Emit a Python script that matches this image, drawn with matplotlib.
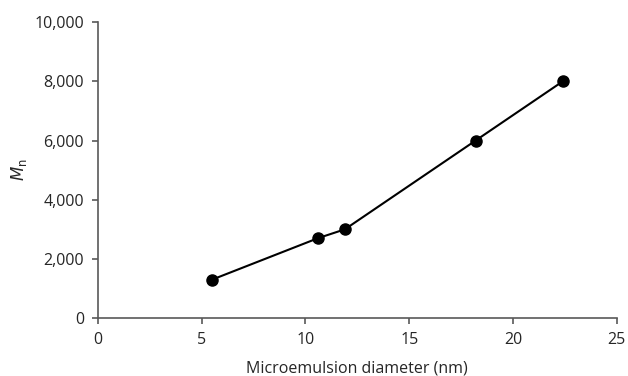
import matplotlib
matplotlib.use('Agg')
import matplotlib.pyplot as plt
from matplotlib.ticker import FuncFormatter

# Data
diameter = [5.5, 10.6, 11.9, 18.2, 22.4]
mn = [1300, 2700, 3000, 6000, 8000]

plt.rcParams['font.family'] = ['Open Sans', 'DejaVu Sans']

fig = plt.figure(figsize=(6.28, 3.76), dpi=100)
ax = fig.add_axes([0.156, 0.154, 0.826, 0.787])

ax.plot(diameter, mn, color='black', linewidth=1.5, marker='o',
        markersize=8, markerfacecolor='black', markeredgecolor='black')

ax.set_xlim(0, 25)
ax.set_ylim(0, 10000)
ax.set_xticks([0, 5, 10, 15, 20, 25])
ax.set_yticks([0, 2000, 4000, 6000, 8000, 10000])
ax.yaxis.set_major_formatter(FuncFormatter(lambda v, p: f'{int(v):,}'))

for s in ['top', 'right']:
    ax.spines[s].set_visible(False)
for s in ['left', 'bottom']:
    ax.spines[s].set_color('#595959')
    ax.spines[s].set_linewidth(1.2)

ax.tick_params(axis='both', direction='out', length=4, width=1.2,
               color='#595959', labelsize=11.5, labelcolor='#262626', pad=6)

ax.set_xlabel('Microemulsion diameter (nm)', fontsize=11.5, color='#262626', labelpad=9)
ax.set_ylabel(r'$M_\mathrm{n}$', fontsize=12, color='#262626', labelpad=4)

fig.savefig('out.png', dpi=100, facecolor='white')
